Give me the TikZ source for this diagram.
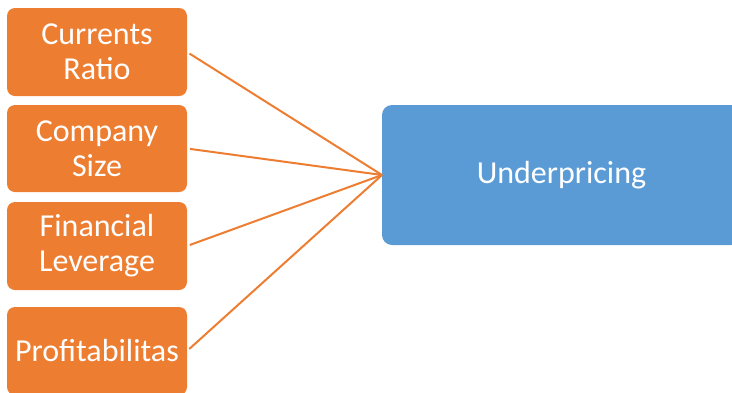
\documentclass[tikz,border=0pt]{standalone}
\usepackage{fontspec}
\setmainfont{Carlito}
\definecolor{borange}{HTML}{ED7D31}
\definecolor{bblue}{HTML}{5B9BD5}
\begin{document}
\begin{tikzpicture}[x=1pt,y=-1pt,
  obox/.style={fill=borange, draw=none, rounded corners=8pt, minimum width=180pt, minimum height=88pt,
     text=white, align=center, font=\fontsize{32}{35}\selectfont, inner sep=0pt, outer sep=0pt},
  bbox/.style={fill=bblue, draw=none, rounded corners=10pt, minimum width=359pt, minimum height=140pt,
     text=white, align=center, font=\fontsize{32}{35}\selectfont, inner sep=0pt, outer sep=0pt},
  link/.style={draw=borange, line width=2pt, shorten <=3pt}]
\useasboundingbox (0,0) rectangle (732,392);
\begin{scope}
\clip (0,0) rectangle (732,392);
\node[obox] (a) at (97,52) {Currents\\Ratio};
\node[obox, minimum height=87pt] (b) at (97,148.5) {Company\\Size};
\node[obox] (c) at (97,246) {Financial\\Leverage};
\node[obox] (d) at (97,351) {Profitabilitas};
\node[bbox] (u) at (561.5,175) {Underpricing};
\coordinate (t) at (382,175);
\draw[link] (a.east) -- (t);
\draw[link] (b.east) -- (t);
\draw[link] (c.east) -- (t);
\draw[link] (d.east) -- (t);
\end{scope}
\end{tikzpicture}
\end{document}
